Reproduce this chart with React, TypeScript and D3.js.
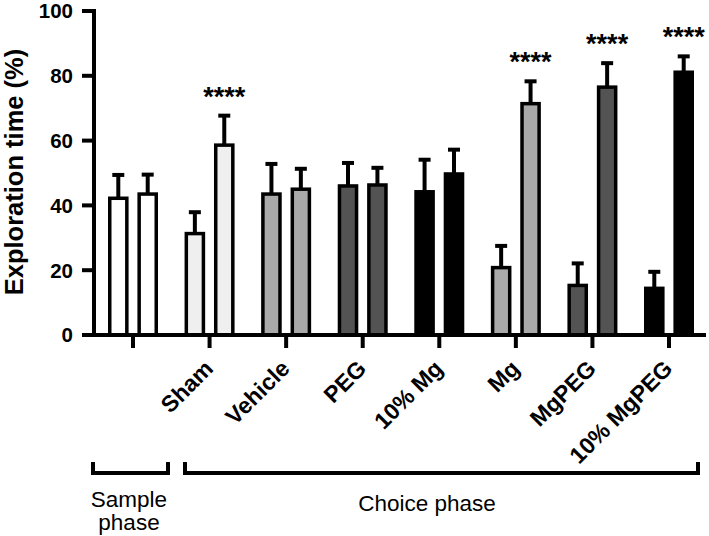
import React, { useRef, useEffect } from "react";
import * as d3 from "d3";

const groups = ["Sample", "Sham", "Vehicle", "PEG", "10% Mg", "Mg", "MgPEG", "10% MgPEG"];
const tickLabels = ["", "Sham", "Vehicle", "PEG", "10% Mg", "Mg", "MgPEG", "10% MgPEG"];
const familiarMean = [42.2, 31.3, 43.5, 46.0, 44.2, 20.8, 15.3, 14.4];
const familiarSem = [7.2, 6.6, 9.3, 7.1, 9.9, 6.7, 6.8, 5.1];
const novelMean = [43.5, 58.6, 45.0, 46.3, 49.7, 71.4, 76.5, 81.1];
const novelSem = [6.0, 9.1, 6.3, 5.3, 7.5, 6.9, 7.4, 4.9];
const fills = ["#ffffff", "#efefef", "#a9a9a9", "#535353", "#000000", "#a9a9a9", "#535353", "#000000"];
const stars = ["", "****", "", "", "", "****", "****", "****"];
const yTicks = [0, 20, 40, 60, 80, 100];

const font = "'Liberation Sans', Arial, Helvetica, sans-serif";

const App = () => {
  const ref = useRef<SVGSVGElement>(null);
  const width = 709;
  const height = 536;

  useEffect(() => {
    const svg = d3.select(ref.current);
    svg.selectAll("*").remove();

    const yScale = d3.scaleLinear().domain([0, 100]).range([335, 11]);
    const xScale = d3.scalePoint<string>().domain(groups).range([133, 669]);
    const sub = d3.scaleBand<number>().domain([0, 1]).range([-25, 25]).paddingInner(0.3);
    const bw = sub.bandwidth();
    const sw = 3.5;

    const bars: { g: string; i: number; k: number; mean: number; sem: number }[] = [];
    groups.forEach((g, i) => {
      bars.push({ g, i, k: 0, mean: familiarMean[i], sem: familiarSem[i] });
      bars.push({ g, i, k: 1, mean: novelMean[i], sem: novelSem[i] });
    });
    const barX = (d) => xScale(d.g)! + sub(d.k)! + bw / 2;

    // error bars (drawn first, bar covers the lower part)
    const err = svg.append("g").attr("stroke", "#000").attr("stroke-width", 4);
    err
      .selectAll("line.v")
      .data(bars)
      .enter()
      .append("line")
      .attr("x1", barX)
      .attr("x2", barX)
      .attr("y1", (d) => yScale(d.mean))
      .attr("y2", (d) => yScale(d.mean + d.sem));
    err
      .selectAll("line.cap")
      .data(bars)
      .enter()
      .append("line")
      .attr("x1", (d) => barX(d) - 6)
      .attr("x2", (d) => barX(d) + 6)
      .attr("y1", (d) => yScale(d.mean + d.sem))
      .attr("y2", (d) => yScale(d.mean + d.sem));

    svg
      .append("g")
      .selectAll("rect")
      .data(bars)
      .enter()
      .append("rect")
      .attr("x", (d) => xScale(d.g)! + sub(d.k)! + sw / 2)
      .attr("width", bw - sw)
      .attr("y", (d) => yScale(d.mean))
      .attr("height", (d) => yScale(0) - yScale(d.mean))
      .attr("fill", (d) => fills[d.i])
      .attr("stroke", "#000")
      .attr("stroke-width", sw);

    // significance
    svg
      .append("g")
      .selectAll("text")
      .data(groups.map((g, i) => ({ g, i })).filter((d) => stars[d.i]))
      .enter()
      .append("text")
      .attr("x", (d) => xScale(d.g)! + sub(1)! + bw / 2)
      .attr("y", (d) => yScale(novelMean[d.i] + novelSem[d.i]) - 10)
      .attr("text-anchor", "middle")
      .attr("font-family", font)
      .attr("font-weight", "bold")
      .attr("font-size", 27)
      .text((d) => stars[d.i]);

    // y axis
    const yAxis = svg.append("g");
    yAxis
      .append("line")
      .attr("x1", 94)
      .attr("x2", 94)
      .attr("y1", yScale(0))
      .attr("y2", yScale(100) - 2)
      .attr("stroke", "#000")
      .attr("stroke-width", 4);
    yAxis
      .selectAll("line.t")
      .data(yTicks)
      .enter()
      .append("line")
      .attr("x1", 82)
      .attr("x2", 94)
      .attr("y1", (d) => yScale(d))
      .attr("y2", (d) => yScale(d))
      .attr("stroke", "#000")
      .attr("stroke-width", 4);
    yAxis
      .selectAll("text")
      .data(yTicks)
      .enter()
      .append("text")
      .attr("x", 73)
      .attr("y", (d) => yScale(d))
      .attr("dy", "0.36em")
      .attr("text-anchor", "end")
      .attr("font-family", font)
      .attr("font-weight", "bold")
      .attr("font-size", 20.5)
      .text((d) => d);

    svg
      .append("text")
      .attr("transform", "translate(23,172) rotate(-90)")
      .attr("text-anchor", "middle")
      .attr("font-family", font)
      .attr("font-weight", "bold")
      .attr("font-size", 25.5)
      .text("Exploration time (%)");

    // x axis
    const xAxis = svg.append("g");
    xAxis
      .append("line")
      .attr("x1", 82)
      .attr("x2", 706)
      .attr("y1", yScale(0))
      .attr("y2", yScale(0))
      .attr("stroke", "#000")
      .attr("stroke-width", 4);
    xAxis
      .selectAll("line.t")
      .data(groups)
      .enter()
      .append("line")
      .attr("x1", (d) => xScale(d)!)
      .attr("x2", (d) => xScale(d)!)
      .attr("y1", yScale(0))
      .attr("y2", 348)
      .attr("stroke", "#000")
      .attr("stroke-width", 4);
    xAxis
      .selectAll("text")
      .data(groups)
      .enter()
      .append("text")
      .attr("transform", (d) => `translate(${xScale(d)! + 5},370) rotate(-45)`)
      .attr("text-anchor", "end")
      .attr("font-family", font)
      .attr("font-weight", "bold")
      .attr("font-size", 23)
      .text((d, i) => tickLabels[i]);

    // phase brackets
    const brackets = [
      { x1: 93, x2: 168 },
      { x1: 185, x2: 698 },
    ];
    svg
      .append("g")
      .selectAll("path")
      .data(brackets)
      .enter()
      .append("path")
      .attr("d", (d) => `M${d.x1},462V473H${d.x2}V462`)
      .attr("fill", "none")
      .attr("stroke", "#000")
      .attr("stroke-width", 4);

    const phase = svg
      .append("g")
      .attr("font-family", font)
      .attr("font-size", 22.5)
      .attr("text-anchor", "middle");
    phase.append("text").attr("x", 129).attr("y", 507).text("Sample");
    phase.append("text").attr("x", 129).attr("y", 530).text("phase");
    phase.append("text").attr("x", 427).attr("y", 511).text("Choice phase");
  });

  return (
    <svg
      ref={ref}
      width={width}
      height={height}
      style={{ position: "absolute", left: 0, top: 0, background: "#fff" }}
    ></svg>
  );
};

export default App;
